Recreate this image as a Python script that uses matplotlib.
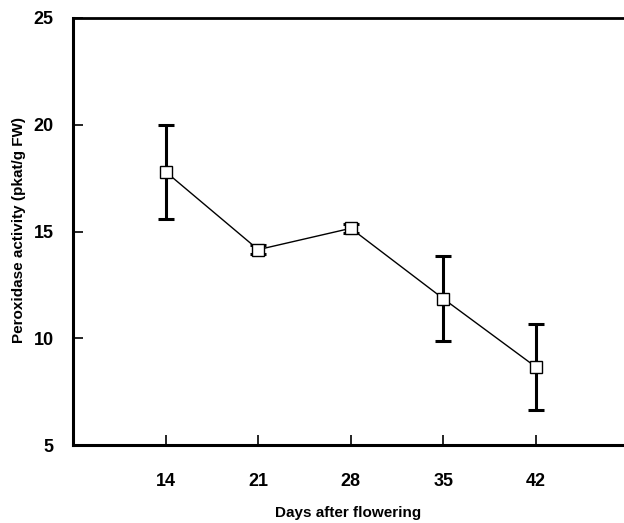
import matplotlib
matplotlib.use("Agg")
import matplotlib.pyplot as plt

days = [14, 21, 28, 35, 42]
activity = [17.8, 14.15, 15.15, 11.85, 8.65]
errors = [2.2, 0.2, 0.2, 2.0, 2.0]
xticks = [14, 21, 28, 35, 42]
yticks = [5, 10, 15, 20, 25]

plt.rcParams['font.family'] = ['Liberation Sans', 'DejaVu Sans']
plt.rcParams['font.weight'] = 'bold'

fig = plt.figure(figsize=(6.24, 5.23), dpi=100)
W, H = 624, 523
left, right, top, bottom = 73, 73 + 42 * 92.6 / 7, 18, 445
ax = fig.add_axes([left / W, 1 - bottom / H, (right - left) / W, (bottom - top) / H])

ax.errorbar(days, activity, yerr=errors, fmt='none', ecolor='black',
            elinewidth=2.2, capsize=6, capthick=2.2, zorder=2)
ax.plot(days, activity, color='black', linewidth=1.0, marker='s',
        markersize=8, markerfacecolor='white', markeredgecolor='black',
        markeredgewidth=1.0, zorder=3)

ax.set_xlim(7, 49)
ax.set_ylim(5, 25)
ax.set_xticks(xticks)
ax.set_yticks(yticks)
ax.tick_params(direction='in', length=7, width=1.2, labelsize=13)
ax.tick_params(axis='x', pad=20)
ax.tick_params(axis='y', pad=14)
for lab in ax.get_xticklabels() + ax.get_yticklabels():
    lab.set_fontweight('bold')

ax.spines['right'].set_visible(False)
ax.spines['left'].set_linewidth(2.2)
ax.spines['bottom'].set_linewidth(2.2)
ax.spines['top'].set_linewidth(2.0)

fig.text(348 / W, 3 / H, 'Days after flowering', fontsize=11, fontweight='bold',
         ha='center', va='bottom')
fig.text(19 / W, 1 - 230 / H, 'Peroxidase activity (pkat/g FW)', fontsize=11,
         fontweight='bold', rotation=90, ha='center', va='center')

fig.savefig('out.png', dpi=100)
